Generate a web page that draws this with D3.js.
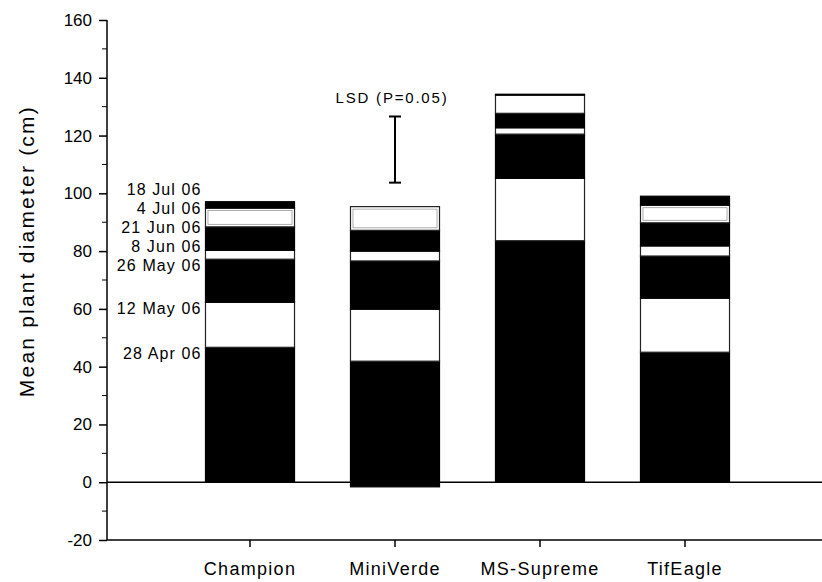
<!DOCTYPE html>
<html>
<head>
<meta charset="utf-8">
<script src="https://cdn.jsdelivr.net/npm/d3@7"></script>
<style>
  html, body { margin: 0; padding: 0; background: #fff; }
  text { font-family: "Liberation Sans", Arial, sans-serif; fill: #000; }
</style>
</head>
<body>
<svg id="chart" width="822" height="582"></svg>
<script>
// ---- data ----
const categories = ["Champion", "MiniVerde", "MS-Supreme", "TifEagle"];
const dates = ["28 Apr 06", "12 May 06", "26 May 06", "8 Jun 06", "21 Jun 06", "4 Jul 06", "18 Jul 06"];
// growth increments per date (cm), stacked
const champion  = [46.7, 15.6, 14.9, 3.1, 8.1, 6.5, 2.2];
const miniVerde = [41.9, 18.0, 16.7, 3.4, 7.2, 8.2, -1.6];
const msSupreme = [83.6, 21.6, 15.3, 2.2, 5.0, 6.3, 0.3];
const tifEagle  = [45.0, 18.7, 14.6, 3.5, 8.0, 6.1, 3.1];
const lsdRange = [103.7, 126.6];
const lsdLabel = "LSD (P=0.05)";
const yTicks = [-20, 0, 20, 40, 60, 80, 100, 120, 140, 160];
const yTitle = "Mean plant diameter (cm)";

const series = [champion, miniVerde, msSupreme, tifEagle];

(function () {
const W = 822, H = 582;
const svg = d3.select("#chart");
svg.append("rect").attr("width", W).attr("height", H).attr("fill", "#fff");

const mLeft = 107, mBottom = 540, mTop = 20, mRight = 822;
const y = d3.scaleLinear().domain([-20, 160]).range([mBottom, mTop]);
const x = d3.scaleBand().domain(categories).range([177.5, 757.5])
  .paddingInner(0.386).paddingOuter(0.193);

const segs = [];
categories.forEach((c, ci) => {
  let pos = 0, neg = 0;
  series[ci].forEach((v, di) => {
    let y0, y1;
    if (v >= 0) { y0 = pos; y1 = pos + v; pos = y1; }
    else { y0 = neg; y1 = neg + v; neg = y1; }
    segs.push({ c, ci, di, y0, y1 });
  });
});

const g = svg.append("g");
g.selectAll("rect.seg").data(segs).enter().append("rect")
  .attr("class", "seg")
  .attr("x", d => x(d.c))
  .attr("width", x.bandwidth())
  .attr("y", d => y(Math.max(d.y0, d.y1)))
  .attr("height", d => Math.abs(y(d.y0) - y(d.y1)))
  .attr("fill", d => d.di % 2 === 0 ? "#000" : "#fff")
  .attr("stroke", d => d.di % 2 === 0 ? "#000" : "#222")
  .attr("stroke-width", 1.2);

// thin grey inner outline on the upper white (4 Jul) segments, where a visible last segment follows
g.selectAll("rect.inner")
  .data(segs.filter(d => d.di === 5 && Math.abs(series[d.ci][6]) > 1)).enter().append("rect")
  .attr("class", "inner")
  .attr("x", d => x(d.c) + 2.5)
  .attr("width", x.bandwidth() - 5)
  .attr("y", d => y(d.y1) + 2.5)
  .attr("height", d => Math.max(0, Math.abs(y(d.y0) - y(d.y1)) - 5))
  .attr("fill", "none").attr("stroke", "#999").attr("stroke-width", 0.8);

svg.append("line").attr("x1", mLeft).attr("x2", mRight)
  .attr("y1", y(0)).attr("y2", y(0)).attr("stroke", "#000").attr("stroke-width", 1.5);

const yAxis = d3.axisLeft(y).tickValues(yTicks).tickSize(8).tickPadding(7).tickFormat(d => String(d));
const ya = svg.append("g").attr("transform", `translate(${mLeft},0)`).call(yAxis);
ya.select(".domain").attr("stroke", "#000").attr("stroke-width", 1.5).attr("d", `M0,${mTop}V${mBottom}`);
ya.selectAll(".tick line").attr("stroke-width", 1.5);
ya.selectAll("text").attr("font-size", 17).attr("font-family", "Liberation Sans, Arial, sans-serif");
const minor = d3.range(-10, 160, 20);
svg.append("g").selectAll("line").data(minor).enter().append("line")
  .attr("x1", mLeft - 5).attr("x2", mLeft).attr("y1", d => y(d)).attr("y2", d => y(d))
  .attr("stroke", "#000").attr("stroke-width", 1);

const xAxis = d3.axisBottom(x).tickSize(7).tickPadding(15);
const xa = svg.append("g").attr("transform", `translate(0,${mBottom})`).call(xAxis);
xa.select(".domain").attr("stroke-width", 1.5).attr("d", `M${mLeft},0H${mRight}`);
xa.selectAll(".tick line").attr("stroke-width", 1.5);
xa.selectAll("text").attr("font-size", 18).attr("letter-spacing", 1.3)
  .attr("font-family", "Liberation Sans, Arial, sans-serif");

svg.append("text")
  .attr("transform", `translate(34,${y(80)}) rotate(-90)`)
  .attr("text-anchor", "middle").attr("font-size", 21).attr("letter-spacing", 2.2).text(yTitle);

let cum = 0, prev = -Infinity;
const labelPos = champion.map(v => {
  cum += v;
  const p = Math.max(cum - 2, prev + 6.5);
  prev = p;
  return p;
});
svg.append("g").selectAll("text").data(dates).enter().append("text")
  .attr("x", x(categories[0]) - 4)
  .attr("y", (d, i) => y(labelPos[i]))
  .attr("dy", "0.35em")
  .attr("letter-spacing", 1.1)
  .attr("text-anchor", "end").attr("font-size", 16).text(d => d);

const lx = x(categories[1]) + x.bandwidth() / 2;
const lg = svg.append("g").attr("stroke", "#000").attr("stroke-width", 2);
lg.append("line").attr("x1", lx).attr("x2", lx).attr("y1", y(lsdRange[0])).attr("y2", y(lsdRange[1]));
lg.append("line").attr("x1", lx - 6).attr("x2", lx + 6).attr("y1", y(lsdRange[0])).attr("y2", y(lsdRange[0]));
lg.append("line").attr("x1", lx - 6).attr("x2", lx + 6).attr("y1", y(lsdRange[1])).attr("y2", y(lsdRange[1]));
svg.append("text").attr("x", lx - 3).attr("y", y(lsdRange[1]) - 13)
  .attr("text-anchor", "middle").attr("font-size", 15).attr("letter-spacing", 1.8).text(lsdLabel);
})();
</script>
</body>
</html>
